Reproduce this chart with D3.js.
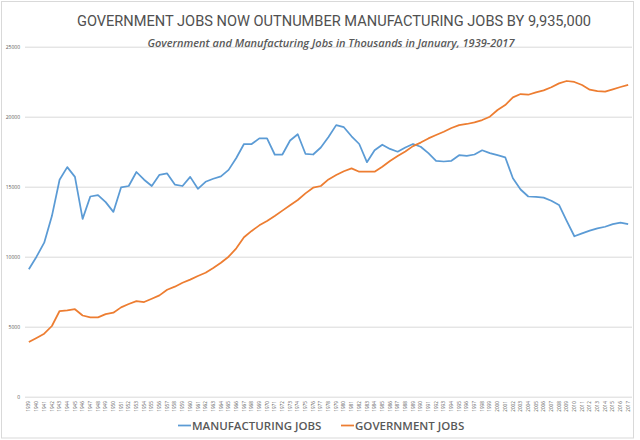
<!DOCTYPE html>
<html>
<head>
<meta charset="utf-8">
<script src="https://cdn.jsdelivr.net/npm/d3@7"></script>
<style>
  body { margin: 0; background: #fff; }
  svg { display: block; font-family: "Open Sans", sans-serif; }
</style>
</head>
<body>
<div id="chart"></div>
<script>
// January jobs, thousands
let years = [
  1939, 1940, 1941, 1942, 1943, 1944, 1945, 1946, 1947, 1948, 1949,
  1950, 1951, 1952, 1953, 1954, 1955, 1956, 1957, 1958, 1959,
  1960, 1961, 1962, 1963, 1964, 1965, 1966, 1967, 1968, 1969,
  1970, 1971, 1972, 1973, 1974, 1975, 1976, 1977, 1978, 1979,
  1980, 1981, 1982, 1983, 1984, 1985, 1986, 1987, 1988, 1989,
  1990, 1991, 1992, 1993, 1994, 1995, 1996, 1997, 1998, 1999,
  2000, 2001, 2002, 2003, 2004, 2005, 2006, 2007, 2008, 2009,
  2010, 2011, 2012, 2013, 2014, 2015, 2016, 2017,
];

let manufacturing = [
  9100, 10000, 11000, 12900, 15500, 16400, 15700, 12700, 14300, 14400, 13900,
  13200, 14950, 15050, 16050, 15500, 15050, 15850, 15950, 15150, 15050,
  15700, 14850, 15350, 15570, 15740, 16200, 17050, 18050, 18050, 18450,
  18450, 17300, 17300, 18300, 18750, 17350, 17300, 17800, 18550, 19400,
  19250, 18600, 18050, 16750, 17600, 18000, 17700, 17500, 17800, 18050,
  17850, 17400, 16850, 16800, 16850, 17250, 17200, 17300, 17600, 17400,
  17250, 17100, 15600, 14800, 14300, 14280, 14220, 14000, 13700, 12560,
  11460, 11670, 11860, 12020, 12140, 12330, 12430, 12333,
];

let government = [
  3900, 4200, 4500, 5050, 6120, 6170, 6250, 5800, 5670, 5670, 5900,
  6000, 6380, 6620, 6830, 6760, 7000, 7240, 7640, 7860, 8140,
  8360, 8620, 8850, 9190, 9570, 10000, 10600, 11390, 11840, 12240,
  12550, 12910, 13290, 13670, 14050, 14520, 14930, 15050, 15520, 15830,
  16100, 16310, 16070, 16070, 16070, 16430, 16830, 17190, 17520, 17900,
  18150, 18450, 18690, 18930, 19190, 19400, 19480, 19600, 19760, 20000,
  20480, 20830, 21380, 21620, 21570, 21740, 21880, 22100, 22380, 22550,
  22480, 22260, 21930, 21830, 21790, 21950, 22120, 22268,
];

let yTicks = [0, 5000, 10000, 15000, 20000, 25000];

let series = [
  { name: "MANUFACTURING JOBS", values: manufacturing, color: "#5b9bd5" },
  { name: "GOVERNMENT JOBS", values: government, color: "#ed7d31" },
];

let width = 640;
let height = 440;
let margin = { top: 46.7, right: 8, bottom: 43.3, left: 25 };
let textColor = "#595959";

let svg = d3
  .select("#chart")
  .append("svg")
  .attr("width", width)
  .attr("height", height);

// chart area frame
svg
  .append("rect")
  .attr("x", 1.5)
  .attr("y", 1.5)
  .attr("width", 632)
  .attr("height", 436.5)
  .attr("fill", "none")
  .attr("stroke", "#d9d9d9");

let x = d3
  .scaleBand()
  .domain(years)
  .range([margin.left, width - margin.right]);

let y = d3
  .scaleLinear()
  .domain([0, 25000])
  .range([height - margin.bottom, margin.top]);

// gridlines + y labels
let yAxis = svg
  .append("g")
  .attr("transform", `translate(${margin.left},0)`)
  .call(
    d3
      .axisLeft(y)
      .tickValues(yTicks)
      .tickSize(-(width - margin.left - margin.right))
      .tickPadding(5)
      .tickFormat(d3.format("d"))
  );
yAxis.select(".domain").remove();
yAxis.selectAll("line").attr("stroke", "#d9d9d9");
yAxis
  .selectAll("text")
  .attr("fill", textColor)
  .attr("font-size", 5)
  .attr("font-family", "Open Sans, sans-serif");

// year labels, rotated
let xAxis = svg
  .append("g")
  .attr("transform", `translate(0,${height - margin.bottom})`)
  .call(d3.axisBottom(x).tickSize(0).tickPadding(0));
xAxis.select(".domain").remove();
xAxis
  .selectAll("text")
  .attr("fill", textColor)
  .attr("font-size", 4.6)
  .attr("font-family", "Open Sans, sans-serif")
  .attr("transform", "rotate(-90)")
  .attr("text-anchor", "end")
  .attr("x", -4.5)
  .attr("y", 0)
  .attr("dy", "0.35em");

let line = d3
  .line()
  .x((d, i) => x(years[i]) + x.bandwidth() / 2)
  .y((d) => y(d));

svg
  .selectAll(".series")
  .data(series)
  .join("path")
  .attr("class", "series")
  .attr("fill", "none")
  .attr("stroke", (d) => d.color)
  .attr("stroke-width", 1.75)
  .attr("stroke-linejoin", "round")
  .attr("d", (d) => line(d.values));

// titles
svg
  .append("text")
  .attr("x", 334)
  .attr("y", 26)
  .attr("text-anchor", "middle")
  .attr("fill", "#505050")
  .attr("font-family", "Roboto, sans-serif")
  .attr("font-size", 14.6)
  .text("GOVERNMENT JOBS NOW OUTNUMBER MANUFACTURING JOBS BY 9,935,000");

svg
  .append("text")
  .attr("x", 331)
  .attr("y", 47)
  .attr("text-anchor", "middle")
  .attr("fill", textColor)
  .attr("font-size", 11)
  .attr("font-style", "italic")
  .attr("font-weight", 600)
  .text("Government and Manufacturing Jobs in Thousands in January, 1939-2017");

// legend
let legendX = [178, 341];
let legend = svg
  .selectAll(".legend")
  .data(series)
  .join("g")
  .attr("class", "legend")
  .attr("transform", (d, i) => `translate(${legendX[i]},425.5)`);

legend
  .append("line")
  .attr("x1", 0)
  .attr("x2", 13)
  .attr("stroke", (d) => d.color)
  .attr("stroke-width", 1.75);

legend
  .append("text")
  .attr("x", 14)
  .attr("dy", "0.35em")
  .attr("fill", textColor)
  .attr("font-size", 11.5)
  .attr("font-weight", 600)
  .text((d) => d.name);
</script>
</body>
</html>
